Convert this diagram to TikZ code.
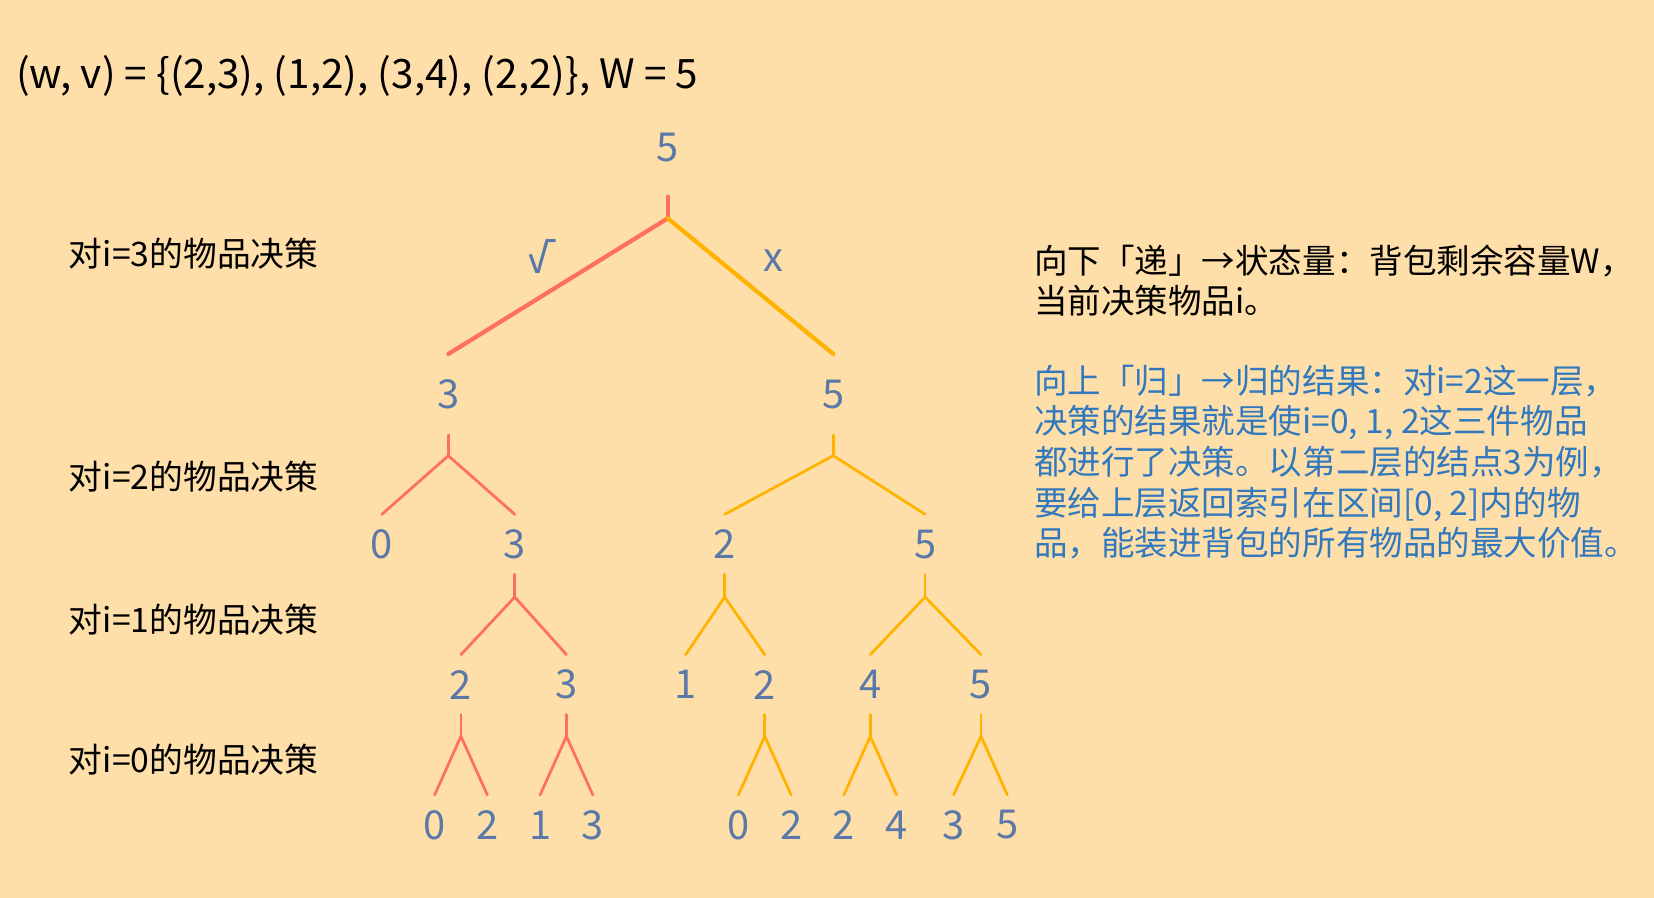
\documentclass[tikz,border=0pt]{standalone}
\usepackage{fontspec}
\setmainfont{Noto Sans CJK SC}
\newfontfamily\tickfont{Fira Sans}
\definecolor{bgpeach}{HTML}{FFDFA9}
\definecolor{takered}{HTML}{FF6F5E}
\definecolor{skiporange}{HTML}{FFB300}
\definecolor{numblue}{HTML}{5B79A8}
\definecolor{noteblue}{HTML}{3278BD}
\begin{document}
\begin{tikzpicture}[x=0.5pt,y=-0.5pt,
  num/.style={inner sep=0pt,minimum height=28pt,text=numblue,font=\fontsize{18.9}{20}\selectfont},
  level/.style={anchor=west,inner sep=0pt,font=\fontsize{16}{18}\selectfont},
  note/.style={anchor=west,inner sep=0pt,align=left,font=\fontsize{15.9}{19.25}\selectfont},
  takeline/.style={takered,line width=1.3pt,line cap=round},
  skipline/.style={skiporange,line width=1.3pt,line cap=round}]

\fill[bgpeach] (0,0) rectangle (1568,851);
\useasboundingbox (0,0) rectangle (1568,851);

\node at (15,72) [anchor=west,inner sep=0pt,font=\fontsize{19.2}{21}\selectfont] (items) {(w, v) = \{(2,3), (1,2), (3,4), (2,2)\}, W = 5};

\node at (65,240) [level] (i3) {对i=3的物品决策};
\node at (65,452) [level] (i2) {对i=2的物品决策};
\node at (65,587) [level] (i1) {对i=1的物品决策};
\node at (65,720) [level] (i0) {对i=0的物品决策};

\node at (980,266) [note] (down) {向下「递」→状态量：背包剩余容量W，\\当前决策物品i。};
\node at (980,438) [note,text=noteblue] (up) {向上「归」→归的结果：对i=2这一层，\\决策的结果就是使i=0, 1, 2这三件物品\\都进行了决策。以第二层的结点3为例，\\要给上层返回索引在区间[0, 2]内的物\\品，能装进背包的所有物品的最大价值。};

\node at (633,140) [num,minimum height=46pt] (r) {5};
\coordinate (f) at (633,207);
\draw[takeline,line width=2pt] (r.south) -- (f);

\node at (425,374) [num,minimum height=38pt] (a) {3};
\node at (790,374) [num,minimum height=38pt] (b) {5};
\draw[takeline,line width=2pt] (f) -- (a.north);
\draw[skipline,line width=2pt] (f) -- (b.north);
\node at (511,243) [num,font=\tickfont\fontsize{18.9}{20}\selectfont] (yes) {√};
\node at (733,247) [num] (no) {x};

\coordinate (fa) at (425,432);
\coordinate (fb) at (790,432);
\draw[takeline] (a.south) -- (fa);
\draw[skipline] (b.south) -- (fb);

\node at (362,516) [num] (aa) {0};
\node at (488,516) [num] (ab) {3};
\node at (687,516) [num] (ba) {2};
\node at (877,516) [num] (bb) {5};
\draw[takeline] (aa.north) -- (fa) -- (ab.north);
\draw[skipline] (ba.north) -- (fb) -- (bb.north);

\coordinate (fab) at (488,566);
\coordinate (fba) at (687,566);
\coordinate (fbb) at (877,566);
\draw[takeline] (ab.south) -- (fab);
\draw[skipline] (ba.south) -- (fba);
\draw[skipline] (bb.south) -- (fbb);

\node at (437,649) [num] (aba) {2};
\node at (537,649) [num] (abb) {3};
\node at (650,649) [num] (baa) {1};
\node at (725,649) [num] (bab) {2};
\node at (825,649) [num] (bba) {4};
\node at (930,649) [num] (bbb) {5};
\draw[takeline] (aba.north) -- (fab) -- (abb.north);
\draw[skipline] (baa.north) -- (fba) -- (bab.north);
\draw[skipline] (bba.north) -- (fbb) -- (bbb.north);

\coordinate (faba) at (437,698);
\coordinate (fabb) at (537,698);
\coordinate (fbab) at (725,698);
\coordinate (fbba) at (825,698);
\coordinate (fbbb) at (930,698);
\draw[takeline] (aba.south) -- (faba);
\draw[takeline] (abb.south) -- (fabb);
\draw[skipline] (bab.south) -- (fbab);
\draw[skipline] (bba.south) -- (fbba);
\draw[skipline] (bbb.south) -- (fbbb);

\node at (412,782) [num] (abaa) {0};
\node at (462,782) [num] (abab) {2};
\node at (512,782) [num] (abba) {1};
\node at (562,782) [num] (abbb) {3};
\node at (700,782) [num] (baba) {0};
\node at (750,782) [num] (babb) {2};
\node at (800,782) [num] (bbaa) {2};
\node at (850,782) [num] (bbab) {4};
\node at (904,782) [num] (bbba) {3};
\node at (955,782) [num] (bbbb) {5};
\draw[takeline] (abaa.north) -- (faba) -- (abab.north);
\draw[takeline] (abba.north) -- (fabb) -- (abbb.north);
\draw[skipline] (baba.north) -- (fbab) -- (babb.north);
\draw[skipline] (bbaa.north) -- (fbba) -- (bbab.north);
\draw[skipline] (bbba.north) -- (fbbb) -- (bbbb.north);

\end{tikzpicture}
\end{document}
